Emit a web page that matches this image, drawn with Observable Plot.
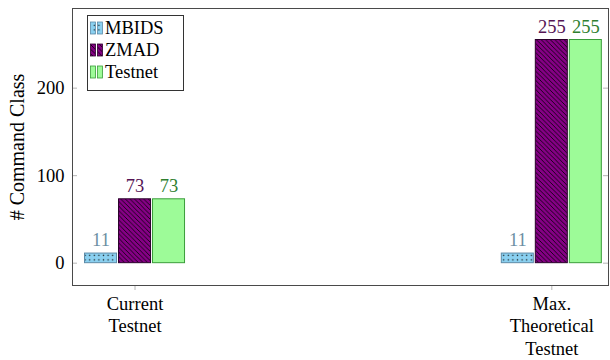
<!DOCTYPE html>
<html>
<head>
<meta charset="utf-8">
<script src="https://cdn.jsdelivr.net/npm/d3@7"></script>
<script src="https://cdn.jsdelivr.net/npm/@observablehq/plot@0.6"></script>
<style>
  body { margin: 0; background: #fff; }
  svg, svg text, svg tspan { font-family: "Liberation Serif", "Times New Roman", "DejaVu Serif", serif !important; }
</style>
</head>
<body>
<div id="chart"></div>
<script>
// Command classes per scenario and detector
const groups = ["Current\nTestnet", "Max.\nTheoretical\nTestnet"];
const seriesNames = ["MBIDS", "ZMAD", "Testnet"];
const mbidsValues = [11, 11];
const zmadValues = [73, 255];
const testnetValues = [73, 255];
const yTicks = [0, 100, 200];

const seriesStyle = {
  MBIDS:   {fill: "url(#mbids-dots)", stroke: "#5d8ba8", label: "#6c8ea3"},
  ZMAD:    {fill: "url(#zmad-lines)", stroke: "#2a002a", label: "#551455"},
  Testnet: {fill: "#9dfb98",          stroke: "#3a9d3a", label: "#2f7f2f"}
};

const valuesBySeries = {MBIDS: mbidsValues, ZMAD: zmadValues, Testnet: testnetValues};
const rows = seriesNames.flatMap((s, j) =>
  groups.map((g, i) => ({group: i, series: s, slot: j - 1, value: valuesBySeries[s][i]}))
);

// bar layout within each group, in x-scale units
const pitch = 0.0816, barWidth = 0.0768;
const center = d => d.group + d.slot * pitch;

const fontSize = 18.5;

const chart = Plot.plot({
  width: 610,
  height: 360,
  marginLeft: 72,
  marginRight: 2,
  marginTop: 8,
  marginBottom: 75,
  style: {fontFamily: "'Liberation Serif', serif", fontSize: fontSize + "px", background: "#fff"},
  x: {domain: [-0.15, 1.136]},
  y: {domain: [-25.5, 291]},
  marks: [
    ...seriesNames.map(s => Plot.rect(rows.filter(d => d.series === s), {
      x1: d => center(d) - barWidth / 2,
      x2: d => center(d) + barWidth / 2,
      y1: () => 0,
      y2: "value",
      fill: seriesStyle[s].fill,
      stroke: seriesStyle[s].stroke,
      strokeWidth: 1
    })),
    ...seriesNames.map(s => Plot.text(rows.filter(d => d.series === s), {
      x: center,
      y: "value",
      text: d => String(d.value),
      dy: -13,
      fill: seriesStyle[s].label,
      fontSize: fontSize
    })),
    // inward tick marks on both vertical sides
    Plot.tickY(yTicks, {y: d => d, insetRight: 531, stroke: "#b5b5b5"}),
    Plot.tickY(yTicks, {y: d => d, insetLeft: 531, stroke: "#b5b5b5"}),
    Plot.axisY({ticks: yTicks, tickSize: 0, tickPadding: 8, label: null, fontSize: fontSize}),
    Plot.axisX({
      ticks: [0, 1],
      tickFormat: i => groups[i],
      tickSize: 5,
      tickPadding: 4,
      stroke: "#b5b5b5",
      fill: "black",
      lineHeight: 1.2,
      label: null,
      fontSize: fontSize
    }),
    Plot.text(["# Command Class"], {
      frameAnchor: "left", textAnchor: "middle", rotate: -90, dx: -55, fontSize: 20
    }),
    Plot.frame({stroke: "#4a4a4a", strokeWidth: 1})
  ]
});

document.getElementById("chart").appendChild(chart);

// fill patterns
const svg = d3.select(chart);
const defs = svg.insert("defs", ":first-child");
const dots = defs.append("pattern")
  .attr("id", "mbids-dots").attr("patternUnits", "userSpaceOnUse")
  .attr("width", 4.6).attr("height", 4.6);
dots.append("rect").attr("width", 4.6).attr("height", 4.6).attr("fill", "#8ad0f0");
dots.append("circle").attr("cx", 2.3).attr("cy", 2.3).attr("r", 0.75).attr("fill", "#111");

const lines = defs.append("pattern")
  .attr("id", "zmad-lines").attr("patternUnits", "userSpaceOnUse")
  .attr("width", 4.6).attr("height", 4.6);
lines.append("rect").attr("width", 4.6).attr("height", 4.6).attr("fill", "#850085");
lines.append("path")
  .attr("d", "M0,0L4.6,4.6M-1,3.6L1,5.6M3.6,-1L5.6,1")
  .attr("stroke", "#000").attr("stroke-width", 0.8);

// legend
const legend = svg.append("g");
legend.append("rect")
  .attr("x", 87.5).attr("y", 15.5).attr("width", 96).attr("height", 75)
  .attr("fill", "#fff").attr("stroke", "#333").attr("stroke-width", 1);
seriesNames.forEach((s, i) => {
  const cy = 28 + i * 22;
  [90.5, 97.5].forEach(x => legend.append("rect")
    .attr("x", x).attr("y", cy - 6).attr("width", 5).attr("height", 12)
    .attr("fill", seriesStyle[s].fill).attr("stroke", seriesStyle[s].stroke).attr("stroke-width", 0.8));
  legend.append("text")
    .attr("x", 105).attr("y", cy).attr("dy", "0.35em")
    .attr("text-anchor", "start")
    .attr("font-size", fontSize).attr("fill", "black")
    .text(s);
});
</script>
</body>
</html>
